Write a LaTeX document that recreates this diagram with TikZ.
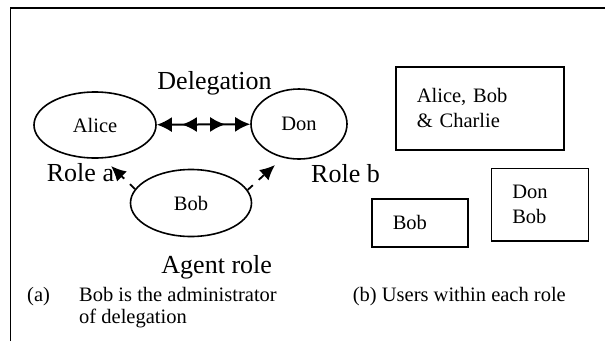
\documentclass[tikz,border=0pt]{standalone}
\usepackage{fontspec}
\setmainfont{Liberation Serif}
\usetikzlibrary{positioning,shapes,arrows.meta}
\tikzset{>=latex}

\begin{document}
\begin{tikzpicture}[x=1pt,y=-1pt,
    role/.style={ellipse,draw,line width=1.6pt,inner sep=0pt,font=\fontsize{20.5}{25}\selectfont},
    users/.style={rectangle,draw,line width=1.6pt,anchor=north west,align=left,inner xsep=21pt,font=\fontsize{20.5}{25}\selectfont},
    big/.style={font=\fontsize{26}{30}\selectfont,inner sep=0pt},
    small/.style={font=\fontsize{20.5}{21.6}\selectfont,inner sep=0pt,align=left},
    agent/.style={line width=1.8pt,dash pattern=on 7pt off 8pt,-{Latex[length=15pt,width=14pt]}}]
    \useasboundingbox (0,0) rectangle (605,341);
    % outer frame, open to the right and bottom
    \draw[line width=1.8pt] (10.5,341) |- (605,8);
    % the three roles
    \node[role,minimum width=122pt,minimum height=66pt] (alice) at (95,125) {Alice};
    \node[role,minimum width=96pt,minimum height=70pt] (don) at (299,124) {Don};
    \node[role,minimum width=121pt,minimum height=67pt] (bob) at (191,203) {Bob};
    \node[big,anchor=base] (deleg) at (214.5,89.5) {Delegation};
    \node[big,anchor=base west] (rolea) at (46.7,181.7) {Role a};
    \node[big,anchor=base west] (roleb) at (311,182) {Role b};
    \node[big,anchor=base] (agent) at (216.7,273.3) {Agent role};
    % delegation between role a and role b
    \draw[line width=2pt,{Latex[length=15pt,width=15pt]Latex[length=15pt,width=15pt,sep=10pt]}-{Latex[length=15pt,width=15pt,sep=10pt]Latex[length=15pt,width=15pt]}] (alice) -- (don);
    % bob administers the delegation
    \coordinate (ra) at (111,166);
    \coordinate (rb) at (275,165);
    \draw[agent] (bob.166) -- (ra);
    \draw[agent] (bob.13) -- (rb);
    % users within each role
    \node[users,text width=126pt,minimum height=83pt] (usa) at (395,66) {Alice, Bob\\\& Charlie};
    \node[users,text width=54pt,minimum height=48pt] (usagent) at (371,198) {Bob};
    \node[users,text width=55pt,minimum height=72.5pt] (usb) at (490.5,167.5) {Don\\Bob};
    % captions
    \node[small,anchor=base west] (capa) at (27,301.7) {(a)};
    \node[small,anchor=base west] (capatext) at (79,323.3) {Bob is the administrator\\of delegation};
    \node[small,anchor=base west] (capb) at (352.7,301.7) {(b) Users within each role};
\end{tikzpicture}
\end{document}
